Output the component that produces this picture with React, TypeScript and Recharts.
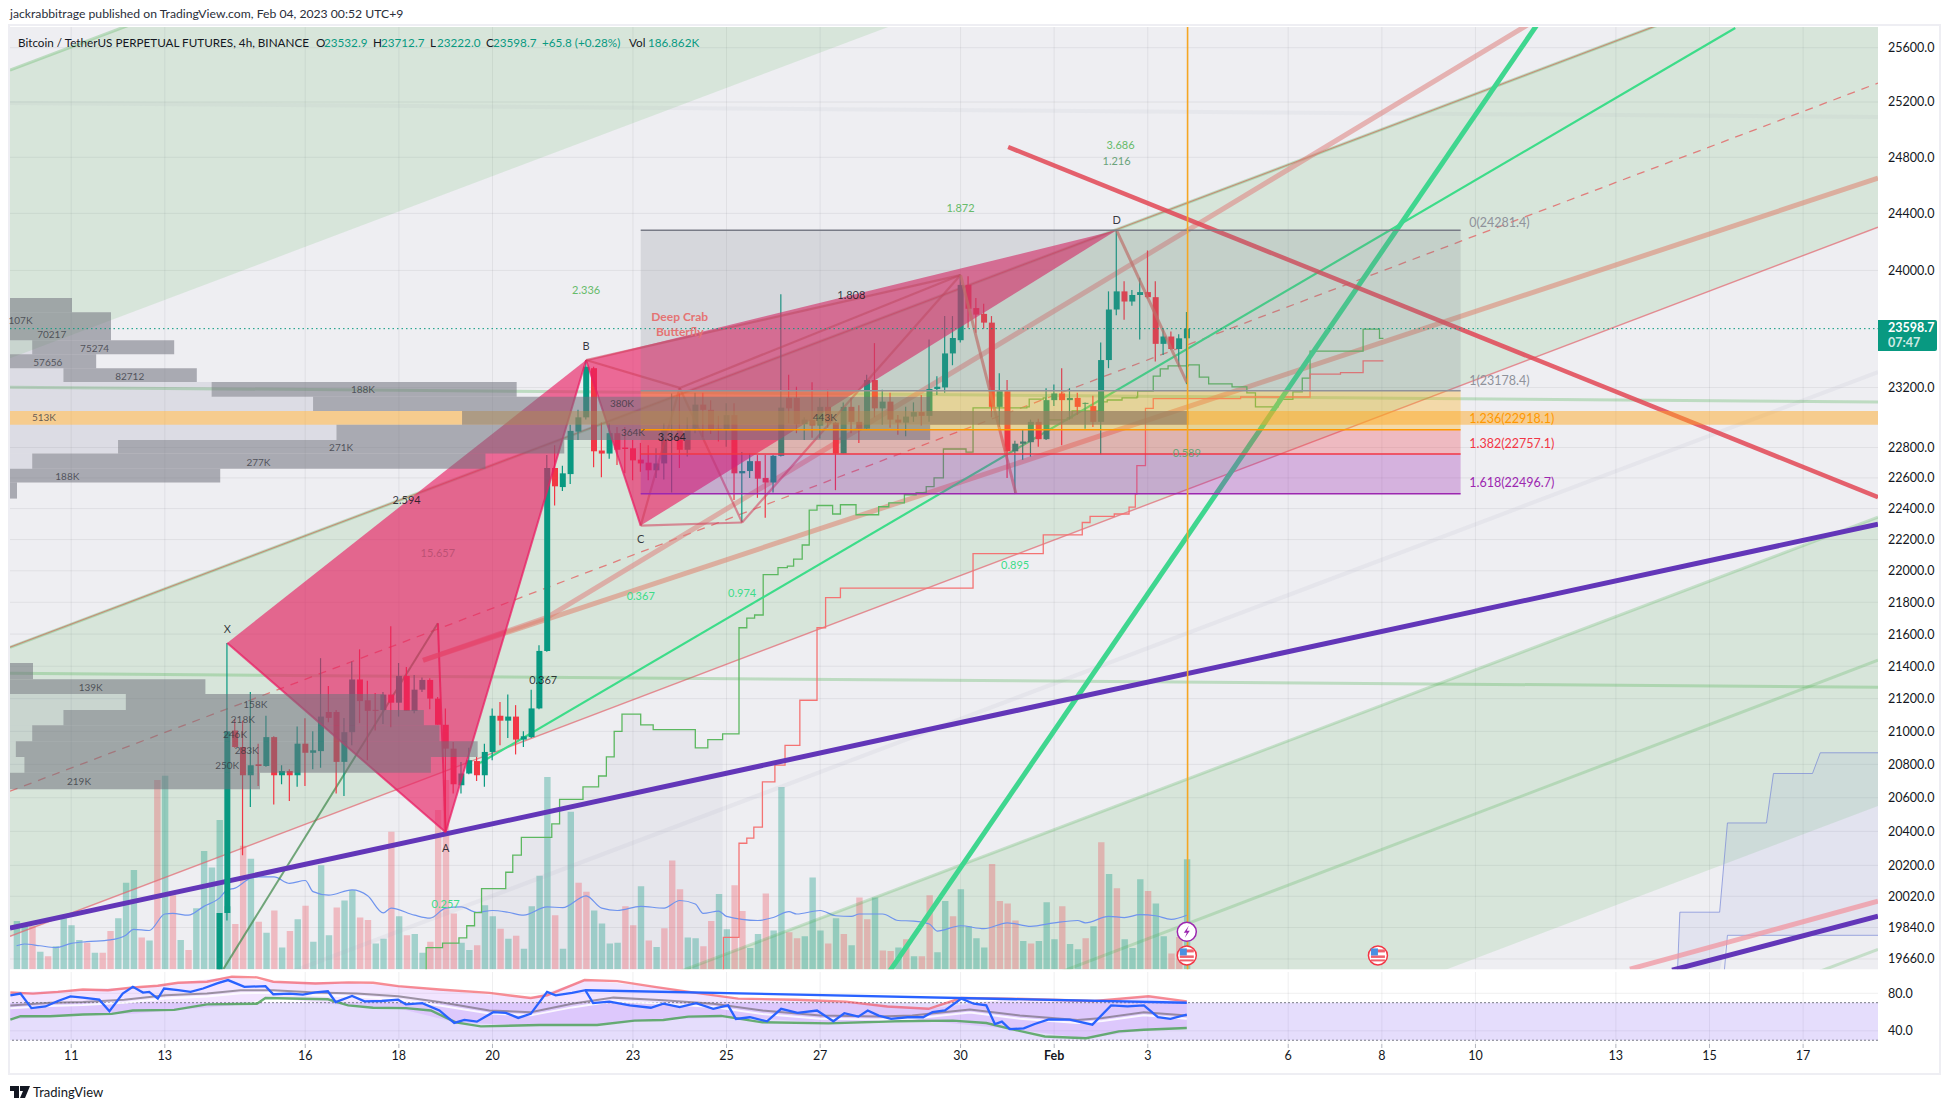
import { Area, Bar, CartesianGrid, Cell, ComposedChart, Line, ReferenceArea, ReferenceDot, ReferenceLine, XAxis, YAxis } from "recharts";

// bar index: 0 = Jan 9 20:00, six 4h bars a day
const X_DOMAIN = [-0.846, 238.6];
const PRICE_DOMAIN = [19601, 25754];
const VOLUME_DOMAIN = [0, 1602];
const RSI_DOMAIN = [26, 102.7];

const dateTicks = [7, 19, 37, 49, 61, 79, 91, 103, 121, 133, 145, 163, 175, 187, 205, 217, 229];
const dateLabels = ["11", "13", "16", "18", "20", "23", "25", "27", "30", "Feb", "3", "6", "8", "10", "13", "15", "17"];
const priceTicks = [25600, 25200, 24800, 24400, 24000, 23200, 22800, 22600, 22400, 22200, 22000, 21800, 21600, 21400, 21200, 21000, 20800, 20600, 20400, 20200, 20020, 19840, 19660];
const rsiTicks = [80, 40];

const volumes = [
  82, 73, 73, 30, 22, 39, 87, 75, 50, 45, 28, 28, 65, 87, 147, 169, 54, 49, 322, 329, 126, 50, 33, 104, 201, 173,
  254, 107, 77, 210, 188, 81, 62, 100, 37, 65, 85, 108, 47, 177, 58, 105, 117, 135, 88, 84, 44, 52, 234, 90, 58, 60,
  28, 47, 271, 322, 95, 45, 33, 41, 109, 90, 69, 52, 57, 35, 107, 159, 327, 92, 35, 268, 147, 132, 100, 78, 44, 45,
  107, 75, 141, 49, 38, 70, 185, 136, 54, 53, 39, 82, 128, 68, 143, 99, 36, 60, 129, 66, 310, 63, 53, 56, 156, 66,
  44, 87, 60, 41, 122, 85, 122, 32, 31, 37, 51, 22, 22, 126, 29, 116, 90, 136, 73, 53, 37, 179, 116, 112, 83, 48, 44,
  48, 114, 51, 107, 43, 34, 53, 73, 216, 162, 138, 51, 36, 153, 133, 112, 56, 27, 55, 187,
];
const volumeSides = (
  "G G R G R G G G G R G R R G G G R G R G R G R G G G " +
  "G G R R G R G R G R G R G G G R G G R R G G R G R G " +
  "G R R R R G G R G G R G R G G G G R G G R R G G G G R R G R " +
  "G R R R G G R R G G R R G G R G G R R G G G R G R G R R G R R G R G R R G G R G G " +
  "G G R R R R G R G G G R G G R G R G R G G G R G G R R G R G G"
).split(" ");

// candles start where price enters the visible range
const candleStart = 26;
const opens = [
  19450, 19923, 21005, 20905, 20735, 20800, 20790, 20965, 20735, 20760, 20735, 20925, 20870, 20880, 21118, 21118, 20815, 20995, 21318, 21190, 21130,
  21130, 21225, 21175, 21340, 21125, 21255, 21315, 21200, 21040, 20895, 20675, 20745, 20820, 20735, 20875, 21095, 21065, 21090, 20950, 20965, 21140,
  21495, 22665, 22540, 22625, 22905, 23000, 23330, 22780, 22760, 22895, 22800, 22795, 22720, 22700, 22650, 22695, 22915, 22920, 22785, 22925, 23085,
  23050, 22925, 22920, 23015, 22630, 22645, 22710, 22600, 22570, 22745, 23130, 23130, 22955, 22985, 22945, 23070, 22965, 22760, 23070, 22970, 22925,
  23250, 23060, 23105, 22985, 22965, 23005, 23035, 23010, 23190, 23200, 23430, 23520, 23900, 23740, 23700, 23640, 23070, 23175, 22775, 22825, 22835,
  22970, 22855, 23115, 23160, 23115, 23130, 23090, 23075, 22970, 23385, 23730, 23855, 23785, 23830, 23850, 23815, 23495, 23545, 23460, 23532.9,
];
const highs = [
  19923, 21545, 21075, 21065, 21240, 20925, 21095, 20970, 20795, 20770, 21030, 21080, 21000, 21450, 21278, 21130, 21082, 21430, 21505, 21310, 21235,
  21240, 21650, 21420, 21395, 21345, 21330, 21325, 21210, 21140, 20935, 20815, 20900, 20845, 20925, 21140, 21180, 21225, 21160, 21000, 21255, 21530,
  22750, 22815, 22680, 22950, 23050, 23385, 23340, 22965, 22960, 22935, 22935, 22850, 22830, 22815, 22795, 22960, 23160, 23160, 23000, 23165, 23165,
  23115, 23010, 23095, 23095, 22770, 22760, 22750, 22750, 22750, 23835, 23285, 23205, 23000, 23235, 23130, 23185, 22970, 23100, 23130, 23080, 23285,
  23500, 23185, 23165, 23015, 23070, 23100, 23150, 23525, 23275, 23685, 23685, 23970, 23960, 23810, 23770, 23685, 23295, 23250, 22845, 22920, 22985,
  22990, 23195, 23220, 23330, 23195, 23165, 23100, 23145, 23505, 23855, 24281, 23925, 23865, 23950, 24140, 23925, 23600, 23580, 23560, 23712.7,
];
const lows = [
  19400, 19880, 20900, 20260, 20545, 20670, 20785, 20560, 20680, 20580, 20665, 20670, 20770, 20780, 21055, 20625, 20610, 20915, 21050, 20825, 21005,
  21045, 21025, 21090, 21125, 21110, 21240, 21135, 21040, 20395, 20625, 20625, 20740, 20700, 20665, 20825, 20915, 20960, 20860, 20905, 20960, 21135,
  21490, 22420, 22515, 22560, 22850, 22985, 22670, 22605, 22725, 22685, 22630, 22585, 22640, 22585, 22600, 22590, 22505, 22665, 22740, 22895, 22870,
  22890, 22840, 22805, 22455, 22315, 22600, 22470, 22340, 22505, 22740, 22960, 22895, 22850, 22865, 22860, 22930, 22520, 22760, 22895, 22830, 22920,
  23000, 22950, 22930, 22885, 22875, 22970, 22945, 22970, 23150, 23165, 23350, 23505, 23605, 23570, 23600, 23000, 22935, 22600, 22500, 22720, 22740,
  22805, 22850, 23075, 22815, 22985, 23015, 22925, 22935, 22755, 23330, 23690, 23660, 23755, 23525, 23805, 23375, 23420, 23455, 23340, 23222,
];
const closes = [
  19923, 21000, 20905, 20735, 20795, 20790, 20965, 20735, 20760, 20735, 20925, 20870, 20885, 21090, 21082, 20815, 20995, 21318, 21185, 21125, 21125,
  21225, 21175, 21340, 21125, 21255, 21315, 21200, 21040, 20895, 20680, 20745, 20825, 20735, 20875, 21095, 21065, 21090, 20950, 20970, 21140, 21495,
  22665, 22545, 22630, 22910, 23000, 23340, 22775, 22760, 22895, 22785, 22790, 22715, 22695, 22650, 22695, 22915, 22920, 22785, 22920, 23085, 23050,
  22920, 22915, 23015, 22630, 22645, 22710, 22595, 22570, 22745, 23065, 23060, 22955, 22985, 22945, 23070, 22965, 22760, 23070, 22970, 22925, 23250,
  23060, 23105, 22985, 22965, 23005, 23035, 23010, 23190, 23205, 23430, 23535, 23900, 23735, 23695, 23640, 23070, 23175, 22775, 22825, 22840, 22970,
  22855, 23115, 23160, 23115, 23130, 23070, 23095, 22970, 23385, 23730, 23855, 23785, 23830, 23850, 23815, 23495, 23545, 23460, 23532.9, 23598.7,
];

const volumeAverage = [
  [0, 40], [1, 43], [3, 40], [5, 37], [7, 44], [9, 47], [12, 50], [14, 58], [15, 68], [17, 66], [19, 94], [20, 95], [22, 92], [24, 107], [26, 121], [27, 135], [28, 138],
  [30, 155], [31, 157], [33, 157], [35, 146], [37, 151], [38, 132], [40, 126], [43, 135], [45, 125], [47, 96], [48, 104], [51, 92], [53, 87], [55, 104], [57, 106], [59, 97],
  [61, 100], [63, 97], [65, 92], [68, 106], [70, 105], [73, 125], [75, 104], [77, 100], [80, 107], [83, 104], [85, 117], [87, 111], [88, 95], [90, 99], [91, 90], [95, 83],
  [97, 88], [99, 98], [100, 94], [103, 100], [105, 91], [107, 90], [108, 94], [111, 94], [113, 83], [115, 82], [117, 77], [118, 65], [121, 74], [124, 69], [127, 79], [130, 73],
  [133, 79], [136, 83], [137, 79], [140, 90], [142, 88], [144, 93], [146, 91], [148, 85], [150, 92],
];

// channel edges, from the left of the pane to the right
const EDGE_L = -0.846;
const EDGE_R = 238.6;
const bandUpper = [[EDGE_L, 23398, 25435], [EDGE_R, 28695, 31193]];
const bandMain = [[EDGE_L, 19789, 21518], [EDGE_R, 24303, 26396]];
const bandLower = [[EDGE_L, 16741, 18199], [EDGE_R, 20551, 22344]];
const channelTopLine = [[EDGE_L, 25435], [EDGE_R, 31193]];
const channelMainTop = [[EDGE_L, 21518], [EDGE_R, 26396]];
const channelMedian = [[EDGE_L, 20639], [EDGE_R, 25339]];
const channelMainLow = [[EDGE_L, 19789], [EDGE_R, 24303]];
const channelFaint = [[EDGE_L, 18992], [EDGE_R, 23303]];
const channelLowTop = [[EDGE_L, 18199], [EDGE_R, 22344]];
const channelLowMid = [[EDGE_L, 17439], [EDGE_R, 21437]];
const channelLowest = [[EDGE_L, 16061], [EDGE_R, 19715]];
const flatHigh = [[EDGE_L, 25193], [EDGE_R, 25091]];
const flatMid = [[EDGE_L, 23202], [EDGE_R, 23102]];
const flatLow = [[EDGE_L, 21356], [EDGE_R, 21270]];

const purpleTrend = [[EDGE_L, 19836], [EDGE_R, 22299]];
const purpleLow = [[212.2, 19596], [EDGE_R, 19905]];
const pinkLow = [[206.8, 19602], [EDGE_R, 19992]];
const redTrend = [[127.1, 24874], [EDGE_R, 22474]];
const greenSteep = [[111.3, 19550], [195.3, 25806]];
const greenThin = [[59.4, 20808], [220.3, 25746]];
const tanLong = [[52.1, 21437], [EDGE_R, 24651]];
const tanSteep = [[52.1, 21437], [68, 21705], [194.7, 25806]];
const oliveRise = [[26.5, 19602], [54, 21668]];
const redDrop = [[54, 21668], [55, 20395]];

// harmonic pattern X A B C D
const patternXA = [[27, 21545], [55, 20395]];
const patternAB = [[55, 20395], [73, 23385]];
const patternBC = [[73, 23385], [80, 22290]];
const triangleXAB = [[27, 21545, 21545], [55, 20395, 22648], [73, 23385, 23385]];
const triangleBCD = [[73, 23385, 23385], [80, 22290, 23476], [141, 24281, 24281]];
const crabLines = [
  [[80, 22290], [93, 22310]],
  [[93, 22310], [121, 23968]],
  [[80, 22290], [85, 23197]],
  [[85, 23197], [93, 22310]],
  [[85, 23197], [121, 23968]],
  [[73, 23385], [85, 23197]],
  [[73, 23385], [121, 23968]],
];
const crabDrops = [
  [[121, 23968], [128.1, 22495]],
  [[141, 24281], [150, 23235]],
];

// fib levels
const fibStart = 80;
const fibEnd = 185.1;
const fibLevels = [24281.4, 23178.4, 22918.1, 22757.1, 22496.7];

// volume profile rows: from, to, low, high
const profileDark = [
  [-0.846, 7.1, 23712, 23809], [-0.846, 12.1, 23520, 23712], [2, 20.2, 23424, 23520], [-0.846, 10.2, 23330, 23424], [6, 23.1, 23236, 23330],
  [25, 64.1, 23137, 23236], [38, 117.1, 23042, 23137], [57.1, 150.2, 22950, 23042], [41, 117.1, 22850, 22950], [13, 70.2, 22760, 22850],
  [2, 60.1, 22660, 22760], [-0.846, 26.1, 22570, 22660], [-0.846, 0.05, 22465, 22570],
  [-0.846, 2.1, 21320, 21420], [-0.846, 24.2, 21228, 21320], [14, 47.1, 21130, 21228], [6, 52.2, 21037, 21130], [2, 54.2, 20940, 21037],
  [-0.1, 59.1, 20845, 20940], [1, 53.1, 20750, 20845], [-0.846, 31.2, 20650, 20750],
];
const profileLight = [
  [-0.846, 2, 23424, 23520], [-0.846, 6, 23236, 23330], [-0.846, 25, 23137, 23236], [-0.846, 38, 23042, 23137], [-0.846, 41, 22850, 22950],
  [-0.846, 13, 22760, 22850], [-0.846, 2, 22660, 22760],
  [-0.846, 14, 21130, 21228], [-0.846, 6, 21037, 21130], [-0.846, 2, 20940, 21037], [-0.846, -0.1, 20845, 20940], [-0.846, 1, 20750, 20845],
];
const pocBand = [22950, 23042];

const profileLabels = [
  ["107K", 0.5, 23660], ["70217", 4.5, 23565], ["75274", 10, 23470], ["57656", 4, 23370], ["82712", 14.5, 23275], ["188K", 44.4, 23190],
  ["513K", 3.5, 23000], ["271K", 41.6, 22805], ["277K", 31, 22705], ["188K", 6.5, 22610], ["380K", 77.6, 23095], ["364K", 79, 22900], ["443K", 103.6, 23000],
  ["139K", 9.5, 21270], ["158K", 30.6, 21165], ["218K", 29, 21075], ["246K", 28, 20985], ["283K", 29.5, 20885], ["250K", 27, 20795], ["219K", 8, 20700],
];
const patternLabels = [
  ["X", 27, 21635], ["A", 55, 20305], ["B", 73, 23485], ["C", 80, 22205], ["D", 141, 24355],
  ["2.594", 50, 22460], ["3.364", 84, 22875], ["0.367", 67.5, 21320], ["1.808", 107, 23835],
];
const greenLabels = [["3.686", 141.5, 24895], ["1.872", 121, 24445], ["2.336", 73, 23870]];
const brightLabels = [["0.367", 80, 21840], ["0.974", 93, 21865], ["0.895", 128, 22040], ["0.257", 55, 19980]];
const mutedLabels = [["1.216", 141, 24775], ["0.589", 150, 22765]];
const fadedLabels = [["15.657", 54, 22115]];
const crabLabels = [["Deep Crab", 85, 23680], ["Butterfly", 85, 23580]];
const fibLabels = [
  ["0(24281.4)", 186.2, 24333, "#8f929b"],
  ["1(23178.4)", 186.2, 23248, "#8f929b"],
  ["1.236(22918.1)", 186.2, 22990, "#ff9800"],
  ["1.382(22757.1)", 186.2, 22825, "#f23645"],
  ["1.618(22496.7)", 186.2, 22570, "#9c27b0"],
];

const greenStep = [
  [52.4, 19500], [52.5, 19725], [54.6, 19750], [56.7, 19780], [57.7, 19850], [58.7, 19925], [59.6, 20065], [62.7, 20160], [63.6, 20260], [64.7, 20365], [68.6, 20445],
  [69.6, 20590], [72.6, 20665], [74.6, 20730], [75.6, 20845], [76.6, 21000], [77.6, 21105], [80, 21040], [81.6, 21010], [87, 20900], [88.6, 20950], [90.5, 20985],
  [92.6, 21640], [93.6, 21700], [94.6, 21720], [95.7, 21975], [97.6, 22020], [98.8, 22030], [99.6, 22075], [100.7, 22165], [101.6, 22390], [102.6, 22420], [104.6, 22365],
  [105.6, 22425], [107.6, 22360], [110.5, 22412], [111.8, 22437], [113.8, 22490], [115.3, 22503], [116.6, 22543], [117.6, 22600], [118.8, 22790], [121.7, 22770], [122.6, 23063],
  [129.5, 23070], [129.8, 23122], [131.6, 23130], [131.9, 22983], [134.7, 22996], [135.3, 23043], [138.9, 23103], [139.8, 23116], [141.7, 23130], [143.6, 23136], [143.7, 23176],
  [145.7, 23277], [146.6, 23325], [147.6, 23345], [150.2, 23352], [151.6, 23270], [152.8, 23224], [155.8, 23204], [157.7, 23164], [158.8, 23070], [161.7, 23120], [163.6, 23170],
  [164.8, 23263], [165.8, 23445], [172.6, 23595], [174.7, 23533], [175.2, 23533],
];
const redStep = [
  [90.5, 19500], [90.6, 19783], [92.6, 20330], [93.6, 20360], [94.5, 20425], [95.6, 20695], [97.2, 20795], [98.5, 20915], [100.4, 21190], [102.6, 21640], [103.7, 21830],
  [105.6, 21890], [122.6, 22110], [131.6, 22230], [136.6, 22310], [137.6, 22350], [140.7, 22365], [142.6, 22410], [143.4, 22495], [143.6, 22680], [144.7, 23060], [145.7, 23125],
  [156.9, 23136], [165.8, 23290], [169.7, 23300], [172.6, 23380], [175.2, 23380],
];
const blueUpper = [[212.9, 19590], [213.2, 19928], [218.3, 19928], [219.3, 20450], [224.3, 20450], [225.2, 20745], [230.2, 20745], [231.2, 20870], [EDGE_R, 20870]];
const blueLower = [[218.9, 19590], [219.3, 19795], [EDGE_R, 19795]];
const blueBand = [[212.9, 19590, 19590], [213.2, 19590, 19928], [218.3, 19590, 19928], [219.3, 19795, 20450], [224.3, 19795, 20450], [225.2, 19795, 20745], [230.2, 19795, 20745], [231.2, 19795, 20870], [EDGE_R, 19795, 20870]];

const rsiLine = [
  [-0.8, 77.9], [0.5, 79.7], [1.9, 64.2], [3.7, 66], [5.3, 71.8], [6.9, 76.8], [8.5, 75.4], [10.6, 73.2], [11.9, 61], [13.6, 79.7], [14.9, 86.9], [16.2, 80.8], [17, 81.5], [18.1, 74.3], [18.9, 85.1],
  [20.7, 83.3], [22.3, 81.5], [23.9, 85.1], [25.7, 90.5], [27.1, 94.1], [29.2, 86.9], [31.9, 87.6], [32.9, 79], [35, 79.7], [36.7, 78.6], [38.3, 81.1], [39.9, 82.2], [40.9, 70.7], [43, 77.2], [44.6, 71.4],
  [46.8, 71.8], [48.9, 73.2], [49.9, 68.2], [52, 69.6], [54.2, 61.7], [56.1, 48.4], [57.4, 51.6], [59, 49.8], [61.1, 59.9], [62.7, 59.2], [64.3, 53.8], [65.9, 58.1], [68, 81.5], [69.1, 77.9], [71.2, 80.5],
  [72.9, 83.3], [73.9, 69.6], [76, 71.1], [78.6, 67.1], [81.3, 64.6], [82.9, 68.9], [85, 65.3], [87.1, 69.6], [89.3, 63.5], [91.2, 67.1], [92.2, 52.7], [94, 54.5], [96.2, 50.2], [98, 63.5], [100.1, 59.2],
  [102.6, 61.7], [104.7, 50.2], [106.1, 58.8], [107.9, 55.2], [109.1, 61.7], [110.5, 56.3], [112.1, 52.7], [114.2, 54.5], [116.2, 54.5], [117.4, 59.9], [119, 61.7], [121.1, 74.3], [122.7, 68.9], [124.3, 67.1],
  [125.4, 47.3], [126.3, 49.8], [127.3, 41.9], [129.1, 42.6], [130.5, 47.3], [132.3, 52.3], [135, 52], [137.9, 46.6], [140.3, 67.1], [142.4, 66], [144.5, 67.1], [146.3, 54.5], [147.9, 52.7], [150, 57.4],
];
const rsiUpper = [
  [-0.8, 80.8], [2.1, 79.7], [5.3, 81.5], [8.5, 84], [11.7, 83.3], [14.9, 86.2], [18.1, 88], [20.7, 91.3], [24.4, 92.3], [27.6, 97.7], [30.8, 97], [32.9, 92.3], [38.3, 90.5], [42.5, 91.6], [45.7, 91.3], [48.9, 87.7],
  [54.2, 84], [60.6, 80.5], [65.9, 75], [68, 77.9], [72.8, 94.1], [77, 93], [81.8, 86.9], [87.1, 80.5], [92.5, 74.3], [99.9, 73.2], [106.3, 71.1], [111.6, 66], [116.9, 63.5], [121.1, 75], [127.5, 74.3], [138.2, 71.8], [145.1, 76.8], [150, 71.4],
];
const rsiLower = [
  [-0.8, 52], [0.5, 55.6], [4.3, 55.6], [8.5, 57.4], [12.2, 58.1], [14.9, 61.7], [20.2, 62.4], [24.4, 68.2], [30.8, 68.9], [31.9, 75], [39.9, 73.6], [42.5, 67.1], [45.7, 64.6], [49.9, 64.2], [53.1, 61.7], [56.3, 49.1], [59.5, 44.8],
  [67, 46.2], [74.4, 46.2], [79.2, 50.9], [82.9, 51.6], [86.1, 55.2], [90.3, 55.9], [95.6, 49.1], [104.1, 48], [112.6, 50.2], [120, 50.9], [124.3, 48.4], [127.5, 41.9], [131.8, 34], [137.1, 32.2], [141.3, 39.4], [144.5, 41.2], [150, 43],
];
const rsiAverage = [
  [-0.8, 67.1], [4.3, 70], [8.5, 70.7], [13.8, 73.2], [19.1, 77.9], [24.4, 79.7], [28.7, 83.3], [32.9, 83.3], [38.3, 80.8], [43.6, 79.7], [48.9, 76.8], [54.2, 70.7], [60.6, 61.7], [65.9, 59.9], [71.2, 68.9], [76.5, 75.4],
  [82.9, 72.5], [89.3, 68.9], [95.6, 61.7], [103, 56.3], [110.5, 55.2], [114.8, 56.3], [122.2, 62.8], [128.6, 56.3], [136, 51.6], [139.2, 53.8], [144.5, 59.9], [150, 56.3],
];
const rsiAverageSlow = [
  [-0.8, 64], [4.3, 66.5], [8.5, 67.5], [13.8, 70], [19.1, 74.5], [24.4, 76.5], [28.7, 80], [32.9, 80.5], [38.3, 78], [43.6, 76.5], [48.9, 73.5], [54.2, 67], [60.6, 58.5], [65.9, 56.5], [71.2, 65], [76.5, 71.5],
  [82.9, 69], [89.3, 65.5], [95.6, 58], [103, 53], [110.5, 52], [114.8, 53], [122.2, 59.5], [128.6, 53], [136, 48.5], [139.2, 50.5], [144.5, 56.5], [150, 53],
];
const rsiBand = [
  [-0.8, 52, 80.8], [8.5, 57.4, 84], [14.9, 58.1, 86.2], [20.7, 62.4, 91.3], [27.6, 67, 97.7], [32.9, 75, 92.3], [42.5, 67.1, 91.6], [48.9, 64, 87.7], [56.3, 49, 82], [65.9, 45.5, 75],
  [72.8, 46, 94.1], [81.8, 51.6, 86.9], [92.5, 55, 74.3], [104.1, 48, 71.5], [116.9, 50.5, 63.5], [127.5, 41.9, 74.3], [137.1, 32.2, 71.8], [145.1, 41.2, 76.8], [150, 43, 71.4],
];
const rsiTrend = [[72.9, 83.3], [150, 70]];

const UP = "#089981";
const DOWN = "#f23645";
const UI_FONT = "Lato, 'Noto Sans', sans-serif";
const WIDTH = 1952;
const HEIGHT = 1109;
const PRICE_MARGIN = { top: 27, right: 74, bottom: 139.7, left: 10 };

const chartRows = volumes.map((volume, i) => {
  const k = i - candleStart;
  const hasCandle = k >= 0;
  return {
    x: i,
    volume,
    side: volumeSides[i],
    up: hasCandle ? closes[k] >= opens[k] : true,
    wick: hasCandle ? [lows[k], highs[k]] : null,
    body: hasCandle ? [Math.min(opens[k], closes[k]), Math.max(opens[k], closes[k])] : null,
  };
});

const toPoints = (rows: number[][]) => rows.map(([x, y]) => ({ x, y }));
const toRange = (rows: number[][]) => rows.map(([x, lo, hi]) => ({ x, range: [lo, hi] }));

// shaded part under the green step, up to where the red one begins
const stepShade = greenStep.filter(([x]) => x <= 90.6).map(([x, y]) => [x, 19500, y]);

function segment(rows: number[][], stroke: string, width: number, key: string, dash?: string, type: any = "linear") {
  return (
    <Line
      key={key}
      data={toPoints(rows)}
      dataKey="y"
      type={type}
      stroke={stroke}
      strokeWidth={width}
      strokeDasharray={dash}
      dot={false}
      activeDot={false}
      legendType="none"
      isAnimationActive={false}
    />
  );
}

function band(rows: number[][], fill: string, key: string, type: any = "linear") {
  return (
    <Area
      key={key}
      data={toRange(rows)}
      dataKey="range"
      type={type}
      fill={fill}
      fillOpacity={1}
      stroke="none"
      dot={false}
      activeDot={false}
      legendType="none"
      isAnimationActive={false}
    />
  );
}

function rect(x1: number, x2: number, y1: number, y2: number, fill: string, key: string) {
  return <ReferenceArea key={key} x1={x1} x2={x2} y1={y1} y2={y2} fill={fill} fillOpacity={1} stroke="none" ifOverflow="visible" />;
}

function textMarks(rows: any[], fill: string, size: number, prefix: string, anchor = "middle", weight = 400) {
  return rows.map(([label, x, y, color], i) => (
    <ReferenceDot
      key={prefix + i}
      x={x}
      y={y}
      r={0}
      ifOverflow="visible"
      shape={(p: any) => (
        <text x={p.cx} y={p.cy} fill={color ?? fill} fontSize={size} fontWeight={weight} fontFamily={UI_FONT} textAnchor={anchor} dominantBaseline="central">
          {label}
        </text>
      )}
    />
  ));
}

function boltIcon(p: any) {
  return (
    <g>
      <circle cx={p.cx} cy={p.cy} r={9.5} fill="#fff" stroke="#9c27b0" strokeWidth={1.5} />
      <path d={`M${p.cx + 2} ${p.cy - 6} L${p.cx - 3} ${p.cy + 1} L${p.cx} ${p.cy + 1} L${p.cx - 2} ${p.cy + 6} L${p.cx + 3} ${p.cy - 1} L${p.cx} ${p.cy - 1} Z`} fill="#9c27b0" />
    </g>
  );
}

function flagIcon(p: any) {
  return (
    <g>
      <circle cx={p.cx} cy={p.cy} r={9.5} fill="#fff" stroke="#f23645" strokeWidth={1.5} />
      <rect x={p.cx - 7} y={p.cy - 6} width={14} height={3} fill="#f0616d" />
      <rect x={p.cx - 7} y={p.cy} width={14} height={2.5} fill="#f0616d" />
      <rect x={p.cx - 7} y={p.cy + 4} width={14} height={2} fill="#f0616d" />
      <rect x={p.cx - 7} y={p.cy - 7} width={7} height={7} fill="#4a90e2" />
    </g>
  );
}

// one transparent sheet of the price pane; sheets are stacked so later ones tint earlier ones
function PriceSheet({ children, data }: { children: any; data?: any[] }) {
  return (
    <div style={{ position: "absolute", left: 0, top: 0 }}>
      <ComposedChart width={WIDTH} height={HEIGHT} data={data} margin={PRICE_MARGIN}>
        <XAxis dataKey="x" type="number" domain={X_DOMAIN} hide allowDataOverflow />
        <YAxis scale="log" domain={PRICE_DOMAIN} hide allowDataOverflow />
        {children}
      </ComposedChart>
    </div>
  );
}

const legendDark = { position: "absolute", top: 35, fontSize: 11.7, color: "#131722", whiteSpace: "pre" } as const;
const legendGreen = { ...legendDark, color: UP };

export default function App() {
  return (
    <div style={{ position: "absolute", left: 0, top: 0, width: WIDTH, height: HEIGHT, background: "#fff", fontFamily: UI_FONT, overflow: "hidden" }}>
      <div style={{ position: "absolute", left: 10, top: 6, fontSize: 12.2, color: "#2a2e39", whiteSpace: "pre" }}>jackrabbitrage published on TradingView.com, Feb 04, 2023 00:52 UTC+9</div>
      <div style={{ position: "absolute", left: 8, top: 24, width: 1933, height: 1051, border: "2px solid #eeeef3", boxSizing: "border-box" }} />

      {/* background, channels, volume and the price scale */}
      <div style={{ position: "absolute", left: 0, top: 0 }}>
        <ComposedChart width={WIDTH} height={HEIGHT} data={chartRows} margin={{ ...PRICE_MARGIN, right: 10 }}>
          <CartesianGrid fill="#eeeef2" stroke="rgba(120,123,134,0.12)" syncWithTicks />
          <XAxis dataKey="x" type="number" domain={X_DOMAIN} ticks={dateTicks} hide allowDataOverflow />
          <XAxis xAxisId="volumeX" dataKey="x" type="number" domain={X_DOMAIN} hide allowDataOverflow />
          <YAxis
            orientation="right"
            width={64}
            scale="log"
            domain={PRICE_DOMAIN}
            ticks={priceTicks}
            interval={0}
            allowDataOverflow
            axisLine={false}
            tickLine={false}
            tickSize={0}
            tickMargin={10}
            tick={{ fontSize: 12.5, fill: "#131722", fontFamily: UI_FONT }}
            tickFormatter={(v: number) => v.toFixed(1)}
          />
          <YAxis yAxisId="volumeY" domain={VOLUME_DOMAIN} hide allowDataOverflow />

          {band(bandUpper, "rgba(76,175,80,0.14)", "bandUpper")}
          {band(bandMain, "rgba(76,175,80,0.14)", "bandMain")}
          {band(bandLower, "rgba(76,175,80,0.14)", "bandLower")}
          {band(blueBand, "rgba(110,125,210,0.09)", "blueBand")}
          {band(stepShade, "rgba(100,100,140,0.05)", "stepShade", "stepAfter")}

          <Bar xAxisId="volumeX" yAxisId="volumeY" dataKey="volume" barSize={6.4} isAnimationActive={false} legendType="none">
            {chartRows.map((row) => (
              <Cell key={row.x} fill={row.side === "G" ? "rgba(8,153,129,0.33)" : "rgba(242,54,69,0.28)"} />
            ))}
          </Bar>
        </ComposedChart>
      </div>

      {/* volume average has its own scale */}
      <div style={{ position: "absolute", left: 0, top: 0 }}>
        <ComposedChart width={WIDTH} height={HEIGHT} margin={PRICE_MARGIN}>
          <XAxis dataKey="x" type="number" domain={X_DOMAIN} hide allowDataOverflow />
          <YAxis domain={VOLUME_DOMAIN} hide allowDataOverflow />
          {segment(volumeAverage, "#6f94ee", 1.2, "volumeAverage", undefined, "monotone")}
        </ComposedChart>
      </div>

      {/* channel edges, trend lines and steps */}
      <PriceSheet>
        {segment(channelFaint, "rgba(170,170,195,0.13)", 4, "channelFaint")}
        {segment(flatHigh, "rgba(170,175,185,0.1)", 4, "flatHigh")}
        {segment(channelTopLine, "rgba(76,175,80,0.3)", 3, "channelTopLine")}
        {segment(channelMainTop, "rgba(76,175,80,0.3)", 3, "channelMainTopGlow")}
        {segment(channelMainTop, "rgba(200,120,100,0.75)", 1.2, "channelMainTop")}
        {segment(channelMedian, "rgba(226,100,100,0.8)", 1.3, "channelMedian", "8 7")}
        {segment(channelMainLow, "rgba(226,100,110,0.7)", 1.4, "channelMainLow")}
        {segment(channelLowTop, "rgba(76,175,80,0.25)", 3, "channelLowTop")}
        {segment(channelLowMid, "rgba(76,175,80,0.25)", 3, "channelLowMid")}
        {segment(channelLowest, "rgba(76,175,80,0.25)", 3, "channelLowest")}
        {segment(flatMid, "rgba(76,175,80,0.3)", 3, "flatMid")}
        {segment(flatLow, "rgba(76,175,80,0.3)", 3, "flatLow")}
        {segment(oliveRise, "rgba(70,140,80,0.75)", 2, "oliveRise")}
        {segment(redDrop, "rgba(233,30,70,0.8)", 2, "redDrop")}
        {segment(tanSteep, "rgba(222,130,125,0.55)", 5, "tanSteep")}
        {segment(tanLong, "rgba(222,130,110,0.55)", 5, "tanLong")}
        {segment(greenStep, "#5cb860", 1.3, "greenStep", undefined, "stepAfter")}
        {segment(redStep, "#f47373", 1.3, "redStep", undefined, "stepAfter")}
        {segment(blueUpper, "rgba(120,135,215,0.7)", 1, "blueUpper")}
        {segment(blueLower, "rgba(120,135,215,0.7)", 1, "blueLower")}
        {segment(greenThin, "#3ddc89", 2.2, "greenThin")}
        {segment(greenSteep, "#3fd68f", 5, "greenSteep")}
        {segment(redTrend, "rgba(226,70,85,0.85)", 4.5, "redTrend")}
        {segment(purpleTrend, "#6236b8", 5, "purpleTrend")}
        {segment(purpleLow, "#6236b8", 5, "purpleLow")}
        {segment(pinkLow, "rgba(240,150,160,0.75)", 5, "pinkLow")}
      </PriceSheet>

      {/* candles */}
      <PriceSheet data={chartRows}>
        <XAxis xAxisId="wickX" dataKey="x" type="number" domain={X_DOMAIN} hide allowDataOverflow />
        <XAxis xAxisId="bodyX" dataKey="x" type="number" domain={X_DOMAIN} hide allowDataOverflow />
        <Bar xAxisId="wickX" dataKey="wick" barSize={1.2} isAnimationActive={false} legendType="none">
          {chartRows.map((row) => (
            <Cell key={row.x} fill={row.up ? UP : DOWN} />
          ))}
        </Bar>
        <Bar xAxisId="bodyX" dataKey="body" barSize={6} isAnimationActive={false} legendType="none" minPointSize={1}>
          {chartRows.map((row) => (
            <Cell key={row.x} fill={row.up ? UP : DOWN} />
          ))}
        </Bar>
      </PriceSheet>

      {/* harmonic pattern */}
      <PriceSheet>
        {band(triangleXAB, "rgba(233,30,99,0.64)", "triangleXAB")}
        {band(triangleBCD, "rgba(233,30,99,0.64)", "triangleBCD")}
        {segment(patternXA, "rgba(233,30,99,0.75)", 2, "patternXA")}
        {segment(patternAB, "rgba(233,30,99,0.75)", 2, "patternAB")}
        {segment(patternBC, "rgba(233,30,99,0.75)", 2, "patternBC")}
        {crabLines.map((rows, i) => segment(rows, "rgba(210,60,90,0.55)", 2.2, "crab" + i))}
        {crabDrops.map((rows, i) => segment(rows, "rgba(205,110,100,0.7)", 3, "crabDrop" + i))}
      </PriceSheet>

      {/* fib zones and volume profile sit over everything so far */}
      <PriceSheet>
        {rect(fibStart, fibEnd, fibLevels[0], fibLevels[1], "rgba(120,123,134,0.2)", "fib0")}
        {rect(fibStart, fibEnd, fibLevels[1], fibLevels[2], "rgba(255,176,20,0.33)", "fib1")}
        {rect(fibStart, fibEnd, fibLevels[2], fibLevels[3], "rgba(242,54,69,0.28)", "fib2")}
        {rect(fibStart, fibEnd, fibLevels[3], fibLevels[4], "rgba(156,39,176,0.3)", "fib3")}
        {rect(EDGE_L, EDGE_R, pocBand[0], pocBand[1], "rgba(255,165,30,0.47)", "poc")}
        {profileLight.map(([x1, x2, y1, y2], i) => rect(x1, x2, y1, y2, "rgba(120,123,150,0.15)", "pl" + i))}
        {profileDark.map(([x1, x2, y1, y2], i) => rect(x1, x2, y1, y2, "rgba(110,113,124,0.54)", "pd" + i))}
      </PriceSheet>

      {/* level lines, price line, cursor and all labels */}
      <PriceSheet>
        {fibLevels.map((level, i) => (
          <ReferenceLine
            key={"fib" + i}
            segment={[{ x: fibStart, y: level }, { x: fibEnd, y: level }]}
            stroke={["#787b86", "#8f929b", "#ff9800", "#f23645", "#9c27b0"][i]}
            strokeWidth={1.5}
            ifOverflow="visible"
          />
        ))}
        <ReferenceLine y={closes[closes.length - 1]} stroke={UP} strokeDasharray="1.5 3" ifOverflow="visible" />
        <ReferenceLine x={150.1} stroke="#f5a623" strokeWidth={1.6} ifOverflow="visible" />

        {textMarks(profileLabels, "rgba(50,52,60,0.75)", 10, "profile")}
        {textMarks(patternLabels, "rgba(20,22,30,0.85)", 11, "pattern")}
        {textMarks(greenLabels, "#66bb6a", 11, "green")}
        {textMarks(brightLabels, "#3ddc89", 11, "bright")}
        {textMarks(mutedLabels, "#6aa37a", 11, "muted")}
        {textMarks(fadedLabels, "rgba(150,60,90,0.5)", 11, "faded")}
        {textMarks(crabLabels, "#e57373", 12, "crabLabel", "middle", 700)}
        {textMarks(fibLabels, "#8f929b", 12.5, "fibLabel", "start")}

        <ReferenceDot x={150} y={19815} r={9} ifOverflow="visible" shape={boltIcon} />
        <ReferenceDot x={150} y={19680} r={9} ifOverflow="visible" shape={flagIcon} />
        <ReferenceDot x={174.5} y={19680} r={9} ifOverflow="visible" shape={flagIcon} />
      </PriceSheet>

      {/* RSI pane and the date scale */}
      <div style={{ position: "absolute", left: 0, top: 0 }}>
        <ComposedChart width={WIDTH} height={HEIGHT} margin={{ top: 972, right: 10, bottom: 42, left: 10 }}>
          <CartesianGrid stroke="rgba(120,123,134,0.12)" syncWithTicks />
          <XAxis
            dataKey="x"
            type="number"
            domain={X_DOMAIN}
            ticks={dateTicks}
            interval={0}
            allowDataOverflow
            height={23}
            axisLine={false}
            tickSize={4}
            tickLine={{ stroke: "#b2b5be" }}
            tickMargin={4}
            tick={(p: any) => {
              const label = dateLabels[dateTicks.indexOf(p.payload.value)];
              return (
                <text x={p.x} y={p.y + 8} textAnchor="middle" fontSize={12.5} fontFamily={UI_FONT} fill="#131722" fontWeight={label === "Feb" ? 700 : 400}>
                  {label}
                </text>
              );
            }}
          />
          <YAxis
            orientation="right"
            width={64}
            domain={RSI_DOMAIN}
            ticks={rsiTicks}
            interval={0}
            allowDataOverflow
            axisLine={false}
            tickLine={false}
            tickSize={0}
            tickMargin={10}
            tick={{ fontSize: 12.5, fill: "#131722", fontFamily: UI_FONT }}
            tickFormatter={(v: number) => v.toFixed(1)}
          />
          {rect(EDGE_L, EDGE_R, 30, 70, "rgba(126,87,240,0.2)", "rsiZone")}
          <ReferenceLine y={70} stroke="#787b86" strokeDasharray="2 2" ifOverflow="visible" />
          <ReferenceLine y={30} stroke="#787b86" strokeDasharray="2 2" ifOverflow="visible" />
          {band(rsiBand, "rgba(190,120,255,0.2)", "rsiBand")}
          {segment(rsiUpper, "rgba(242,80,90,0.65)", 2.4, "rsiUpper")}
          {segment(rsiLower, "rgba(70,160,80,0.8)", 2.4, "rsiLower")}
          {segment(rsiAverageSlow, "rgba(255,255,255,0.85)", 2, "rsiAverageSlow")}
          {segment(rsiAverage, "rgba(120,110,125,0.7)", 2, "rsiAverage")}
          {segment(rsiLine, "#2962ff", 2.3, "rsiLine")}
          {segment(rsiTrend, "#2962ff", 2.4, "rsiTrend")}
        </ComposedChart>
      </div>

      <span style={{ ...legendDark, left: 18 }}>Bitcoin / TetherUS PERPETUAL FUTURES, 4h, BINANCE</span>
      <span style={{ ...legendDark, left: 316 }}>O</span>
      <span style={{ ...legendGreen, left: 324 }}>23532.9</span>
      <span style={{ ...legendDark, left: 373 }}>H</span>
      <span style={{ ...legendGreen, left: 381 }}>23712.7</span>
      <span style={{ ...legendDark, left: 430 }}>L</span>
      <span style={{ ...legendGreen, left: 437 }}>23222.0</span>
      <span style={{ ...legendDark, left: 486 }}>C</span>
      <span style={{ ...legendGreen, left: 493 }}>23598.7</span>
      <span style={{ ...legendGreen, left: 542 }}>+65.8 (+0.28%)</span>
      <span style={{ ...legendDark, left: 629 }}>Vol</span>
      <span style={{ ...legendGreen, left: 648 }}>186.862K</span>

      <div style={{ position: "absolute", left: 1878, top: 320, width: 59, height: 31, background: UP, color: "#fff", fontSize: 12.5, lineHeight: "15px", borderRadius: "0 2px 2px 0" }}>
        <div style={{ paddingLeft: 10, fontWeight: 700 }}>23598.7</div>
        <div style={{ paddingLeft: 10, opacity: 0.8, fontWeight: 700 }}>07:47</div>
      </div>

      <svg width={22} height={14} style={{ position: "absolute", left: 10, top: 1085 }}>
        <path d="M0 1 H9 V13 H4 V6 H0 Z M10 1 H20 L15 13 H10 L13 6 H10 Z" fill="#131722" />
      </svg>
      <div style={{ position: "absolute", left: 33, top: 1084, fontSize: 13, color: "#131722" }}>TradingView</div>
    </div>
  );
}
